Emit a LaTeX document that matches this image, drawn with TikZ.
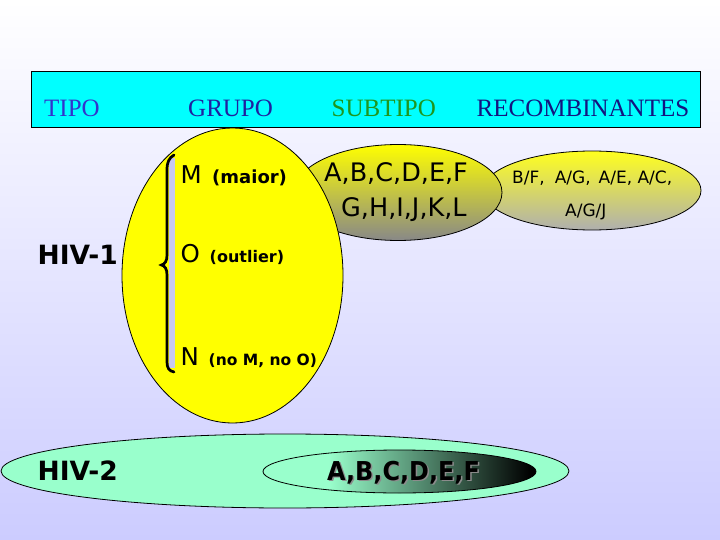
\documentclass[tikz,border=0pt]{standalone}
\usepackage{fontspec}
\setmainfont{Liberation Serif}
\setsansfont{DejaVu Sans}
\usetikzlibrary{shapes.geometric}
\definecolor{bgbot}{RGB}{204,204,255}
\definecolor{headcyan}{RGB}{0,255,255}
\definecolor{tipoc}{RGB}{51,51,204}
\definecolor{grupoc}{RGB}{32,32,160}
\definecolor{subc}{RGB}{30,150,30}
\definecolor{recc}{RGB}{20,20,128}
\definecolor{mintc}{RGB}{153,255,204}
\definecolor{bandc}{RGB}{200,200,240}
\definecolor{yelc}{RGB}{255,255,0}
\definecolor{subtop}{RGB}{255,255,0}
\definecolor{submid}{RGB}{200,200,80}
\definecolor{subbot}{RGB}{136,136,136}
\definecolor{rectop}{RGB}{255,255,30}
\definecolor{recmid}{RGB}{225,225,110}
\definecolor{recbot}{RGB}{175,175,175}
\pgfdeclarehorizontalshading{innershade}{100bp}{color(0bp)=(mintc); color(37bp)=(mintc); color(74bp)=(black); color(100bp)=(black)}
\tikzset{
  blob/.style={ellipse, draw=black, line width=0.8pt, inner sep=0pt},
  head/.style={font=\fontsize{25}{30}\selectfont, anchor=base west, inner sep=0pt},
  lab/.style={anchor=base west, inner sep=0pt},
}
\begin{document}
\begin{tikzpicture}[x=1pt,y=-1pt]
\useasboundingbox (0,0) rectangle (720,540);
\shade[top color=white, bottom color=bgbot] (0,0) rectangle (720,540);
% ellipses
\node[blob, minimum width=218pt, minimum height=79pt, top color=rectop, middle color=recmid, bottom color=recbot] (recomb) at (592,190.5) {};
\node[blob, minimum width=208pt, minimum height=96pt, top color=subtop, middle color=submid, bottom color=subbot] (subtipo) at (398,192.5) {};
\node[blob, minimum width=221pt, minimum height=295pt, fill=yelc] (grupo) at (232.5,275.5) {};
\node[draw=black, line width=0.8pt, fill=headcyan, minimum width=669pt, minimum height=56pt, inner sep=0pt] (header) at (365.5,99) {};
\node[blob, minimum width=568pt, minimum height=74pt, fill=mintc] (hiv2e) at (285,471) {};
\node[blob, minimum width=273pt, minimum height=43pt, shading=innershade] (inner) at (399.5,471.5) {};
% brace
\fill[bandc] (169,158) rectangle (175,368);
\draw[line width=2.7pt, line cap=round] (174,155) .. controls (169,158) and (167,162) .. (167,170) -- (167,255) .. controls (167,261) and (165,264) .. (161.5,265) .. controls (165,266) and (167,269) .. (167,275) -- (167,362) .. controls (167,368) and (169,371) .. (174,372);
% header texts
\node[head, text=tipoc] (tipo) at (44,117) {TIPO};
\node[head, text=grupoc] (grupot) at (188,117) {GRUPO};
\node[head, text=subc] (subt) at (331.5,117) {SUBTIPO};
\node[head, text=recc] (rect) at (476.5,117) {RECOMBINANTES};
% types
\node[lab, font=\sffamily\bfseries\fontsize{26.5}{30}\selectfont] (hiv1) at (37.5,264) {HIV-1};
\node[lab, font=\sffamily\bfseries\fontsize{26.5}{30}\selectfont] (hiv2) at (37.5,480) {HIV-2};
% groups
\node[lab, font=\sffamily\fontsize{24.5}{28}\selectfont] (gm) at (180.5,183.3) {M};
\node[lab, font=\sffamily\bfseries\fontsize{18}{20}\selectfont] (gmx) at (212,183.3) {(maior)};
\node[lab, font=\sffamily\fontsize{24.5}{28}\selectfont] (go) at (180.5,262.7) {O};
\node[lab, font=\sffamily\bfseries\fontsize{16}{20}\selectfont] (gox) at (209.5,262.7) {(outlier)};
\node[lab, font=\sffamily\fontsize{24.5}{28}\selectfont] (gn) at (180.5,365) {N};
\node[lab, font=\sffamily\bfseries\fontsize{15.5}{20}\selectfont] (gnx) at (208.5,365) {(no M, no O)};
% subtypes
\node[lab, font=\sffamily\fontsize{25.5}{30}\selectfont] (s1) at (324,182) {A,B,C,D,E,F};
\node[lab, font=\sffamily\fontsize{25.5}{30}\selectfont] (s2) at (341,216) {G,H,I,J,K,L};
% recombinants
\node[lab, font=\sffamily\fontsize{17}{20}\selectfont] (r1) at (512,183.3) {B/F,\hspace{10pt}A/G,\hspace{8pt}A/E, A/C,};
\node[lab, font=\sffamily\fontsize{17}{20}\selectfont] (r2) at (565,216) {A/G/J};
% HIV-2 subtypes
\node[lab, text=black!45, font=\sffamily\bfseries\fontsize{26}{30}\selectfont] (h2sh) at (328.5,481.5) {\scalebox{0.92}[1]{A,B,C,D,E,F}};
\node[lab, font=\sffamily\bfseries\fontsize{26}{30}\selectfont] (h2s) at (327,480) {\scalebox{0.92}[1]{A,B,C,D,E,F}};
\end{tikzpicture}
\end{document}
